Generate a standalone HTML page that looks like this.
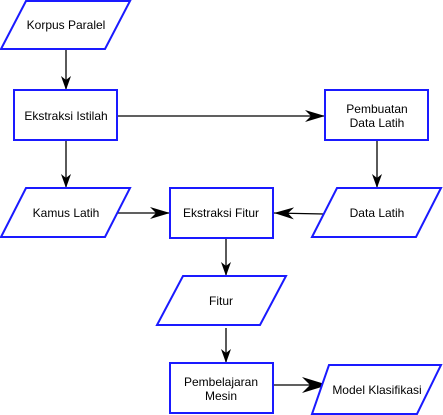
<!DOCTYPE html>
<html><head><meta charset="utf-8"><style>
html,body{margin:0;padding:0;background:#fff;}
svg{display:block;}
text{font-family:"Liberation Sans",sans-serif;font-size:12px;fill:#000;text-anchor:middle;}
.s{fill:#fff;stroke:#1a1aff;stroke-width:2;}
.l{stroke:#000;stroke-width:1.3;fill:none;}
</style></head><body>
<svg width="443" height="415" viewBox="0 0 443 415" xmlns="http://www.w3.org/2000/svg">
<defs>
<marker id="a" markerWidth="14" markerHeight="10" refX="14" refY="5" orient="auto" markerUnits="userSpaceOnUse">
<path d="M0,0 L14,5 L0,10 L4,5 Z" fill="#000"/></marker>
<marker id="b" markerWidth="20" markerHeight="12" refX="20" refY="6" orient="auto" markerUnits="userSpaceOnUse">
<path d="M0,0 L20,6 L0,12 L6,6 Z" fill="#000"/></marker>
<marker id="c" markerWidth="26" markerHeight="16" refX="26" refY="8" orient="auto" markerUnits="userSpaceOnUse">
<path d="M0,0 L26,8 L0,16 L8,8 Z" fill="#000"/></marker>
</defs>
<!-- connectors -->
<line class="l" x1="66" y1="50" x2="66" y2="90" marker-end="url(#a)"/>
<line class="l" x1="66" y1="140" x2="66" y2="188" marker-end="url(#a)"/>
<line class="l" x1="118" y1="116" x2="325" y2="116" marker-end="url(#b)"/>
<line class="l" x1="377" y1="140" x2="377" y2="188" marker-end="url(#a)"/>
<line class="l" x1="118" y1="213" x2="170" y2="213" marker-end="url(#b)"/>
<line class="l" x1="324" y1="214" x2="274" y2="213" marker-end="url(#b)"/>
<line class="l" x1="226" y1="238" x2="226" y2="276" marker-end="url(#a)"/>
<line class="l" x1="226" y1="328" x2="226" y2="363" marker-end="url(#a)"/>
<line class="l" x1="273" y1="385" x2="328" y2="385" stroke-width="2" marker-end="url(#c)"/>
<!-- shapes -->
<polygon class="s" points="26,1 130,1 105,49 1,49"/>
<rect class="s" x="14" y="90" width="103" height="50"/>
<rect class="s" x="325" y="90" width="103" height="50"/>
<polygon class="s" points="26,188 130,188 105,237 1,237"/>
<rect class="s" x="170" y="188" width="103" height="50"/>
<polygon class="s" points="337,188 441,188 416,237 312,237"/>
<polygon class="s" points="183,276 286,276 260,325 157,325"/>
<rect class="s" x="170" y="363" width="103" height="50"/>
<polygon class="s" points="329,365 441,365 417,414 312,414"/>
<!-- labels -->
<text x="66" y="29">Korpus Paralel</text>
<text x="66" y="120">Ekstraksi Istilah</text>
<text x="377" y="113">Pembuatan</text>
<text x="377" y="127">Data Latih</text>
<text x="66" y="217">Kamus Latih</text>
<text x="221" y="217">Ekstraksi Fitur</text>
<text x="377" y="217">Data Latih</text>
<text x="221" y="305">Fitur</text>
<text x="221" y="386">Pembelajaran</text>
<text x="221" y="400">Mesin</text>
<text x="377" y="394">Model Klasifikasi</text>
</svg>
</body></html>
